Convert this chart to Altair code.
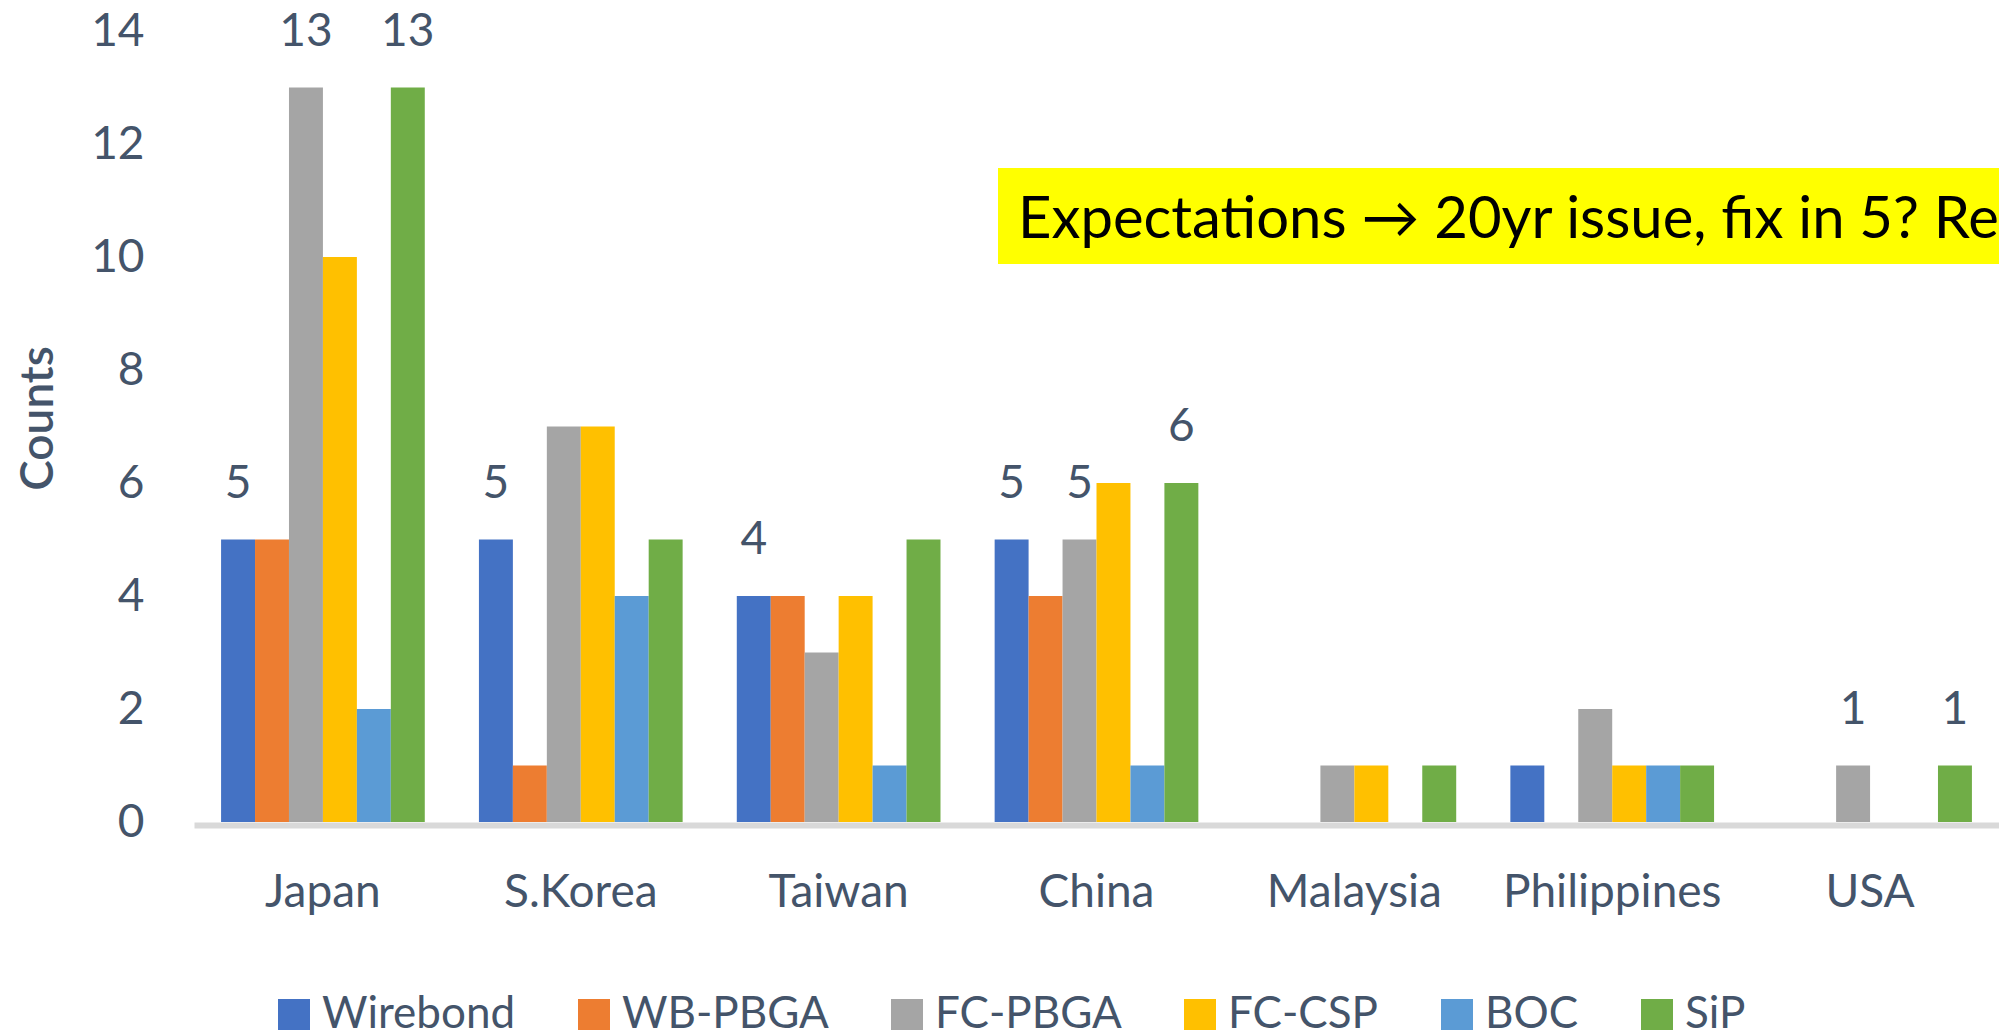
import altair as alt
import pandas as pd

countries = ["Japan", "S.Korea", "Taiwan", "China", "Malaysia", "Philippines", "USA"]
series_names = ["Wirebond", "WB-PBGA", "FC-PBGA", "FC-CSP", "BOC", "SiP"]
series_colors = ["#4472C4", "#ED7D31", "#A5A5A5", "#FFC000", "#5B9BD5", "#70AD47"]

wirebond = [5, 5, 4, 5, 0, 1, 0]
wb_pbga = [5, 1, 4, 4, 0, 0, 0]
fc_pbga = [13, 7, 3, 5, 1, 2, 1]
fc_csp = [10, 7, 4, 6, 1, 1, 0]
boc = [2, 4, 1, 1, 0, 1, 0]
sip = [13, 5, 5, 6, 1, 1, 1]

# which bars carry a visible data label (1 = labelled)
label_wirebond = [1, 1, 1, 1, 0, 0, 0]
label_wb_pbga = [0, 0, 0, 0, 0, 0, 0]
label_fc_pbga = [1, 0, 0, 1, 0, 0, 1]
label_fc_csp = [0, 0, 0, 0, 0, 0, 0]
label_boc = [0, 0, 0, 0, 0, 0, 0]
label_sip = [1, 0, 0, 1, 0, 0, 1]

y_ticks = [0, 2, 4, 6, 8, 10, 12, 14]
annotation_text = ["Expectations \u2192 20yr issue, fix in 5? Re"]

values = [wirebond, wb_pbga, fc_pbga, fc_csp, boc, sip]
labels = [label_wirebond, label_wb_pbga, label_fc_pbga, label_fc_csp, label_boc, label_sip]

rows = []
for s, vals, labs in zip(series_names, values, labels):
    for c, v, l in zip(countries, vals, labs):
        rows.append({"country": c, "series": s, "count": v, "labelled": l})
df = pd.DataFrame(rows)
ann = pd.DataFrame({"text": annotation_text})

FONT = "Lato"
TXT = "#44546A"

x_enc = alt.X(
    "country:N",
    sort=countries,
    scale=alt.Scale(paddingInner=0.21, paddingOuter=0.105),
    axis=alt.Axis(
        title=None,
        labelAngle=0,
        labelFontSize=46,
        labelFont=FONT,
        labelColor=TXT,
        labelBaseline="alphabetic",
        labelPadding=81,
        labelLimit=0,
        ticks=False,
        tickSize=0,
        domain=True,
        domainColor="#D9D9D9",
        domainWidth=6,
        offset=3,
        grid=False,
    ),
)
xoff = alt.XOffset("series:N", sort=series_names,
                   scale=alt.Scale(paddingInner=0, paddingOuter=0))
y_enc = alt.Y(
    "count:Q",
    scale=alt.Scale(domain=[0, 14], nice=False, zero=True),
    axis=alt.Axis(
        title="Counts",
        values=y_ticks,
        format="d",
        labelFontSize=46,
        labelFont=FONT,
        labelColor=TXT,
        labelPadding=50,
        ticks=False,
        tickSize=0,
        domain=False,
        grid=False,
        titleFont=FONT,
        titleFontSize=46,
        titleFontWeight=600,
        titleColor=TXT,
        titleX=-156,
        titleY=387,
        titleAngle=270,
        titleAlign="center",
        titleBaseline="middle",
    ),
)

bars = alt.Chart(df).mark_bar().encode(
    x=x_enc,
    xOffset=xoff,
    y=y_enc,
    color=alt.Color(
        "series:N",
        sort=series_names,
        scale=alt.Scale(domain=series_names, range=series_colors),
        legend=alt.Legend(
            title=None,
            orient="none",
            direction="horizontal",
            legendX=78,
            legendY=962,
            symbolType="square",
            symbolSize=1024,
            symbolStrokeWidth=0,
            labelFont=FONT,
            labelFontSize=44,
            labelColor=TXT,
            labelOffset=6,
            labelLimit=0,
            columnPadding=56,
            columns=6,
        ),
    ),
)

texts = alt.Chart(df).transform_filter("datum.labelled == 1").mark_text(
    font=FONT, fontSize=46, color=TXT, baseline="middle", dy=-56
).encode(
    x=alt.X("country:N", sort=countries),
    xOffset=alt.XOffset("series:N", sort=series_names),
    y=alt.Y("count:Q"),
    text=alt.Text("count:Q"),
)

box = alt.Chart(ann).mark_rect(color="#FFFF00").encode(
    x=alt.value(804), x2=alt.value(1900), y=alt.value(137), y2=alt.value(233)
)
note = alt.Chart(ann).mark_text(
    font=FONT, fontSize=58, color="#000000", align="left", baseline="alphabetic"
).encode(x=alt.value(824), y=alt.value(207), text="text:N")

chart = alt.layer(bars, texts, box, note).properties(
    width=1805,
    height=791,
    autosize=alt.AutoSizeParams(type="none"),
    padding={"left": 194, "top": 31, "right": 0, "bottom": 208},
    background="white",
).configure_view(stroke=None)

chart.save("out.html", embed_options={"renderer": "svg", "actions": False})
